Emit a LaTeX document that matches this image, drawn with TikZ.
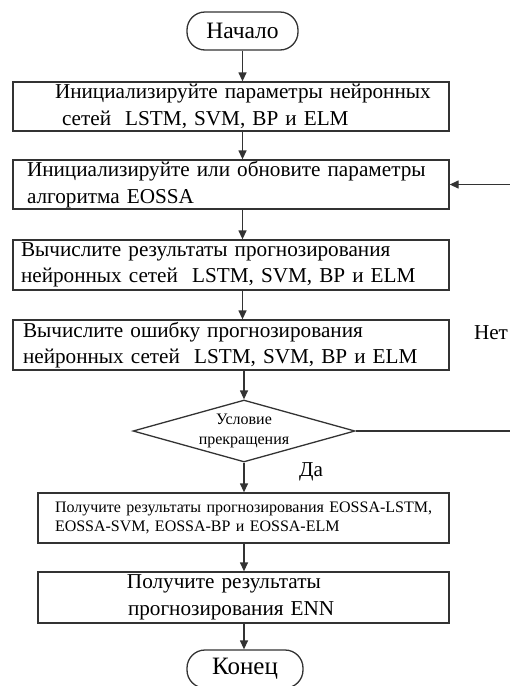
\documentclass[tikz,border=0pt]{standalone}
\usepackage{fontspec}
\setmainfont{Liberation Serif}
\usetikzlibrary{shapes.geometric,arrows.meta}
\begin{document}
\begin{tikzpicture}[x=1pt,y=-1pt,
  line/.style={draw=black!80,line width=1.3pt},
  arr/.style={line,-{Triangle[length=9pt,width=8pt]}},
  bigtext/.style={font=\fontsize{21.2}{26.5}\selectfont},
  smalltext/.style={font=\fontsize{16}{19.5}\selectfont},
  stepbox/.style={line,rectangle,inner xsep=0pt,inner ysep=0pt,align=left},
  term/.style={line,rectangle,rounded corners=18pt,inner sep=0pt},
  cond/.style={line,diamond,inner sep=0pt,aspect=3.58,minimum width=222pt,minimum height=62pt,smalltext,align=center}
]
\useasboundingbox (0,0) rectangle (510,686);

\node[term,minimum width=111pt,minimum height=38pt,font=\fontsize{23.5}{28}\selectfont] (start) at (242.5,31) {Начало};

\node[stepbox,bigtext,text width=436pt,minimum height=49pt] (b1) at (231,106.5)
  {\hspace*{42pt}Инициализируйте параметры нейронных\\\hspace*{49pt}сетей\ \ LSTM, SVM, BP и ELM};

\node[stepbox,bigtext,text width=436pt,minimum height=49pt] (b2) at (231,184.5)
  {\hspace*{14pt}Инициализируйте или обновите параметры\\\hspace*{14pt}алгоритма EOSSA};

\node[stepbox,bigtext,text width=436pt,minimum height=50pt] (b3) at (231,265)
  {\hspace*{8pt}Вычислите результаты прогнозирования\\\hspace*{8pt}нейронных сетей\ \ LSTM, SVM, BP и ELM};

\node[stepbox,bigtext,text width=436pt,minimum height=50pt] (b4) at (231,345)
  {\hspace*{10pt}Вычислите ошибку прогнозирования\\\hspace*{10pt}нейронных сетей\ \ LSTM, SVM, BP и ELM};

\node[cond] (c) at (244,431) {Условие\\прекращения};

\node[stepbox,smalltext,text width=411pt,minimum height=50pt] (b5) at (243.5,518)
  {\hspace*{17pt}Получите результаты прогнозирования EOSSA-LSTM,\\\hspace*{17pt}EOSSA-SVM, EOSSA-BP и EOSSA-ELM};

\node[stepbox,bigtext,text width=411pt,minimum height=51pt] (b6) at (243.5,597.5)
  {\hspace*{89pt}Получите результаты\\\hspace*{90pt}прогнозирования ENN};

\node[term,minimum width=116pt,minimum height=38pt,font=\fontsize{25}{30}\selectfont] (stop) at (245,669) {Конец};

\node[bigtext,inner sep=0pt] (no) at (491,333) {Нет};
\node[bigtext,inner sep=0pt] (yes) at (311,472) {Да};

\coordinate (r1) at (511,431);
\coordinate (r2) at (511,184.5);

\draw[arr] (start.south) -- (start.south |- b1.north);
\draw[arr] (start.south |- b1.south) -- (start.south |- b2.north);
\draw[arr] (start.south |- b2.south) -- (start.south |- b3.north);
\draw[arr] (start.south |- b3.south) -- (start.south |- b4.north);
\draw[arr] (c.north |- b4.south) -- (c.north);
\draw[arr] (c.south) -- (c.south |- b5.north);
\draw[arr] (c.south |- b5.south) -- (c.south |- b6.north);
\draw[arr] (c.south |- b6.south) -- (c.south |- stop.north);
\draw[line] (c.east) -- (r1) -- (r2);
\draw[arr] (r2) -- (b2.east);
\end{tikzpicture}
\end{document}
